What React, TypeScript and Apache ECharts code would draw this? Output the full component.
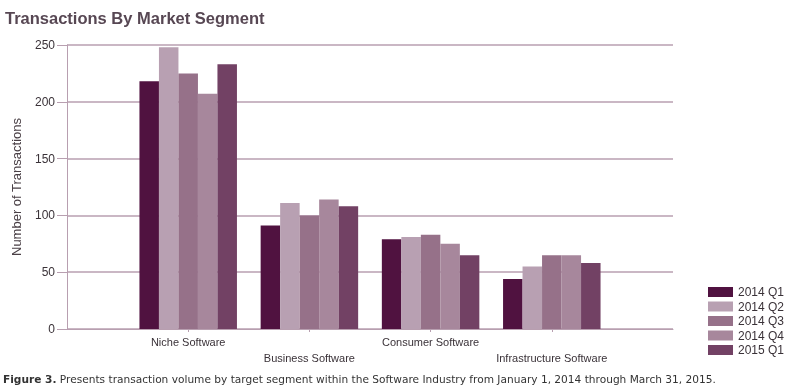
import React, { useEffect, useRef } from 'react';
import * as echarts from 'echarts';

const categories = ['Niche Software', 'Business Software', 'Consumer Software', 'Infrastructure Software'];
const seriesNames = ['2014 Q1', '2014 Q2', '2014 Q3', '2014 Q4', '2015 Q1'];
const q1_2014 = [218, 91, 79, 44];
const q2_2014 = [248, 111, 81, 55];
const q3_2014 = [225, 100, 83, 65];
const q4_2014 = [207, 114, 75, 65];
const q1_2015 = [233, 108, 65, 58];
const seriesValues = [q1_2014, q2_2014, q3_2014, q4_2014, q1_2015];
const seriesColors = ['#501240', '#b8a0b2', '#967189', '#a7879c', '#724164'];
const yMin = 0;
const yMax = 250;
const yInterval = 50;
const titleText = 'Transactions By Market Segment';
const yAxisName = 'Number of Transactions';
const captionBold = 'Figure 3.';
const captionText = ' Presents transaction volume by target segment within the Software Industry from January 1, 2014 through March 31, 2015.';

const FONT = 'Liberation Sans, Arial, sans-serif';
const CAPFONT = 'DejaVu Sans, Verdana, sans-serif';
const LINE = '#b89fb0';

export default function App() {
  const ref = useRef<HTMLDivElement>(null);
  useEffect(() => {
    if (!ref.current) return;
    const chart = echarts.init(ref.current, undefined, { renderer: 'svg' });
    const axisData = ['', ...categories, ''];
    chart.setOption({
      animation: false,
      textStyle: { fontFamily: FONT },
      title: {
        text: titleText,
        left: 0,
        top: 4,
        textStyle: { fontFamily: FONT, fontSize: 16.5, fontWeight: 'bold', color: '#574753' },
      },
      legend: {
        orient: 'vertical',
        left: 703,
        top: 281,
        itemWidth: 25,
        itemHeight: 10,
        itemGap: 2.5,
        icon: 'rect',
        data: seriesNames,
        textStyle: { fontFamily: FONT, fontSize: 12, color: '#3a3238' },
      },
      grid: { left: 67, right: 116, top: 45, bottom: 59, containLabel: false },
      xAxis: {
        type: 'category',
        data: axisData,
        boundaryGap: false,
        axisLine: { show: true, lineStyle: { color: LINE, width: 1 } },
        axisTick: {
          show: true,
          length: 3,
          interval: (index: number) => index > 0 && index < axisData.length - 1,
          lineStyle: { color: LINE },
        },
        axisLabel: {
          interval: 0,
          margin: 5,
          fontSize: 11,
          lineHeight: 16,
          color: '#3a3238',
          fontFamily: FONT,
          formatter: (value: string, index: number) => (index % 2 === 0 && value ? '\n' + value : value),
        },
        splitLine: { show: false },
      },
      yAxis: {
        type: 'value',
        min: yMin,
        max: yMax,
        interval: yInterval,
        name: yAxisName,
        nameLocation: 'middle',
        nameGap: 44,
        nameTextStyle: { fontFamily: FONT, fontSize: 13, color: '#4a4046' },
        axisLine: { show: true, lineStyle: { color: LINE, width: 1 } },
        axisTick: { show: true, length: 10, lineStyle: { color: LINE } },
        axisLabel: { fontSize: 12, color: '#3a3238', margin: 12, fontFamily: FONT },
        splitLine: { show: true, lineStyle: { color: LINE, width: 1.5 } },
      },
      series: seriesNames.map((name, i) => ({
        name,
        type: 'bar',
        barWidth: 19.5,
        barGap: '0%',
        itemStyle: { color: seriesColors[i] },
        data: [null, ...seriesValues[i], null],
      })),
      graphic: [
        {
          type: 'text',
          left: 3,
          top: 373,
          style: {
            text: '{b|' + captionBold + '}' + captionText,
            fontFamily: CAPFONT,
            fontSize: 10.6,
            fill: '#333333',
            rich: {
              b: { fontFamily: CAPFONT, fontSize: 10.6, fontWeight: 'bold', fill: '#333333' },
            },
          },
        },
      ],
    });
    return () => chart.dispose();
  }, []);
  return <div ref={ref} style={{ position: 'fixed', left: 0, top: 0, width: 789, height: 388 }} />;
}
